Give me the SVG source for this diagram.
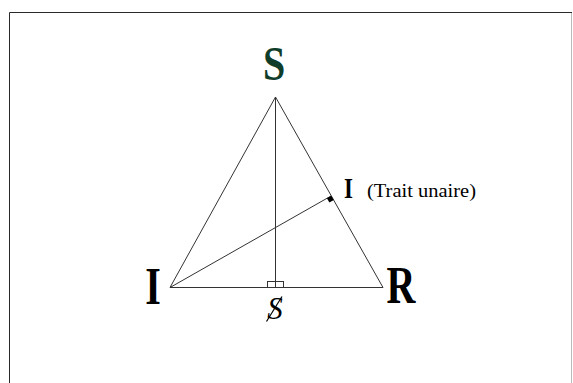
<svg xmlns="http://www.w3.org/2000/svg" width="573" height="383" viewBox="0 0 573 383">
<style>
.ln{stroke:#333;stroke-width:1;fill:none}
.big{font-family:"Liberation Serif","Times New Roman",serif;font-weight:bold;font-size:40px;text-anchor:middle}
.small{font-family:"Liberation Serif","Times New Roman",serif;font-size:18.5px}
</style>
<rect x="0" y="0" width="573" height="383" fill="#fff"/>
<g id="frame">
<line x1="9.5" y1="12.5" x2="572" y2="12.5" stroke="#2a2a2a" stroke-width="1"/>
<line x1="9.5" y1="12.5" x2="9.5" y2="383" stroke="#2a2a2a" stroke-width="1"/>
<line x1="571.5" y1="13" x2="571.5" y2="383" stroke="#bbb" stroke-width="1"/>
</g>
<g id="connectors">
<polygon class="ln" points="275.5,97 170,287.5 383,287.5"/>
<line class="ln" x1="275.5" y1="97" x2="275.5" y2="287.5"/>
<line class="ln" x1="170" y1="287.5" x2="331" y2="196"/>
<rect class="ln" x="267.5" y="281.5" width="16" height="6"/>
<polygon points="331.3,195.7 333.8,200.1 329.4,202.6 326.9,198.2" fill="#000"/>
</g>
<g id="node-S">
<text class="big" fill="#0f3d29" transform="translate(274,79.5) scale(1,1.24)">S</text>
</g>
<g id="node-I-left">
<text class="big" fill="#000" transform="translate(153,304) scale(1,1.3)">I</text>
</g>
<g id="node-R">
<text class="big" fill="#000" transform="translate(401,303) scale(1,1.3)">R</text>
</g>
<g id="node-I-unaire">
<text class="big" fill="#000" style="font-size:23px" transform="translate(348.5,198) scale(1,1.3)">I</text>
<text class="small" fill="#000" x="367" y="196.5" textLength="109" lengthAdjust="spacingAndGlyphs">(Trait unaire)</text>
</g>
<g id="node-S-barre">
<text x="275" y="319" fill="#000" style="font-family:'Liberation Serif','Times New Roman',serif;font-style:italic;font-size:31px;text-anchor:middle">S</text>
<line x1="266.5" y1="321.5" x2="282" y2="296.5" stroke="#000" stroke-width="1.2"/>
</g>
</svg>
